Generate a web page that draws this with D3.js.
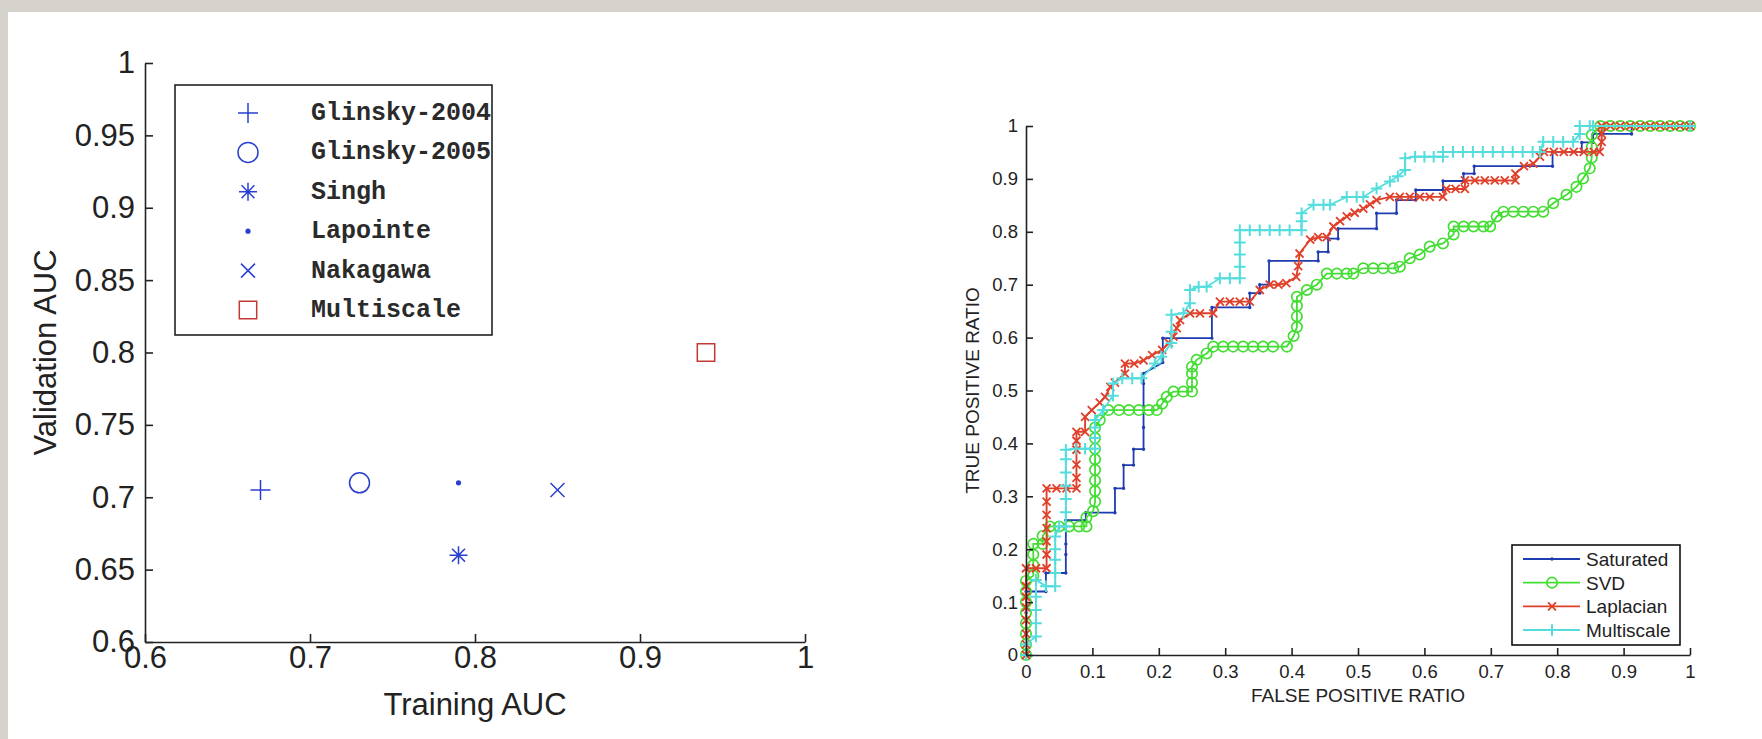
<!DOCTYPE html>
<html>
<head>
<meta charset="utf-8">
<script src="https://cdn.jsdelivr.net/npm/d3@7"></script>
<style>
  body { margin: 0; background: #d5d2cc; }
  svg { display: block; }
</style>
</head>
<body>
<div id="fig"></div>
<script>
// ---------- DATA ----------
// left panel: training vs validation AUC per method
const methods = ["Glinsky-2004", "Glinsky-2005", "Singh", "Lapointe", "Nakagawa", "Multiscale"];
const trainingAUC = [0.67, 0.73, 0.79, 0.79, 0.85, 0.94];
const validationAUC = [0.705, 0.71, 0.66, 0.71, 0.705, 0.80];
const trainTicks = [0.6, 0.7, 0.8, 0.9, 1];
const validTicks = [0.6, 0.65, 0.7, 0.75, 0.8, 0.85, 0.9, 0.95, 1];

// right panel: ROC curves, [false positive ratio, true positive ratio]
const rocLabels = ["Saturated", "SVD", "Laplacian", "Multiscale"];
const rocTicks = [0, 0.1, 0.2, 0.3, 0.4, 0.5, 0.6, 0.7, 0.8, 0.9, 1];

const rocSaturated = [
  [0,0],[0,0.04],[0,0.08],[0,0.12],[0.03,0.12],[0.03,0.155],[0.06,0.155],[0.06,0.19],[0.06,0.21],[0.06,0.255],
  [0.09,0.255],[0.09,0.269],[0.134,0.269],[0.134,0.315],[0.147,0.315],[0.147,0.359],[0.162,0.359],[0.162,0.389],
  [0.177,0.389],[0.177,0.43],[0.177,0.47],[0.177,0.513],[0.177,0.532],[0.206,0.553],[0.206,0.599],[0.28,0.599],
  [0.28,0.657],[0.337,0.657],[0.337,0.684],[0.352,0.684],[0.352,0.70],[0.366,0.70],[0.366,0.745],[0.44,0.745],
  [0.44,0.762],[0.455,0.762],[0.455,0.787],[0.47,0.787],[0.47,0.806],[0.528,0.806],[0.528,0.835],[0.558,0.835],
  [0.558,0.86],[0.587,0.86],[0.587,0.879],[0.628,0.879],[0.628,0.896],[0.659,0.896],[0.659,0.91],[0.675,0.91],
  [0.675,0.924],[0.793,0.924],[0.793,0.951],[0.837,0.951],[0.837,0.969],[0.854,0.969],[0.854,0.985],[0.912,0.985],
  [0.912,1],[1,1]
];

const rocSVD = [
  [0,0],[0,0.02],[0,0.04],[0,0.06],[0,0.08],[0,0.10],[0,0.12],[0,0.14],[0.011,0.15],[0.011,0.17],[0.011,0.19],
  [0.011,0.21],[0.025,0.21],[0.025,0.225],[0.036,0.243],[0.05,0.243],[0.065,0.243],[0.08,0.243],[0.091,0.243],
  [0.091,0.26],[0.101,0.272],[0.104,0.29],[0.104,0.31],[0.104,0.33],[0.104,0.35],[0.104,0.37],[0.104,0.39],
  [0.104,0.41],[0.104,0.43],[0.111,0.444],[0.124,0.463],[0.14,0.463],[0.155,0.463],[0.17,0.463],[0.185,0.463],
  [0.197,0.463],[0.205,0.475],[0.212,0.488],[0.222,0.498],[0.237,0.498],[0.25,0.498],[0.25,0.515],[0.25,0.532],
  [0.25,0.545],[0.257,0.558],[0.272,0.57],[0.282,0.583],[0.297,0.583],[0.312,0.583],[0.327,0.583],[0.342,0.583],
  [0.357,0.583],[0.372,0.583],[0.393,0.583],[0.403,0.603],[0.408,0.62],[0.408,0.64],[0.408,0.66],[0.408,0.677],
  [0.423,0.69],[0.438,0.70],[0.453,0.721],[0.468,0.721],[0.483,0.721],[0.493,0.721],[0.508,0.731],[0.523,0.731],
  [0.538,0.731],[0.553,0.731],[0.563,0.734],[0.578,0.75],[0.593,0.757],[0.608,0.772],[0.628,0.778],[0.644,0.795],
  [0.644,0.81],[0.659,0.81],[0.674,0.81],[0.689,0.81],[0.699,0.81],[0.709,0.829],[0.719,0.838],[0.734,0.838],
  [0.749,0.838],[0.764,0.838],[0.779,0.838],[0.794,0.854],[0.814,0.87],[0.829,0.885],[0.839,0.901],[0.849,0.92],
  [0.852,0.94],[0.852,0.96],[0.852,0.983],[0.865,1],[0.88,1],[0.895,1],[0.91,1],[0.925,1],[0.94,1],[0.955,1],
  [0.97,1],[0.985,1],[1,1]
];

const rocLaplacian = [
  [0,0],[0,0.02],[0,0.04],[0,0.066],[0,0.09],[0,0.11],[0,0.13],[0,0.164],[0.015,0.164],[0.031,0.164],
  [0.031,0.19],[0.031,0.215],[0.031,0.24],[0.031,0.265],[0.031,0.29],[0.031,0.315],[0.046,0.315],[0.061,0.315],
  [0.076,0.315],[0.076,0.335],[0.076,0.36],[0.076,0.388],[0.076,0.405],[0.076,0.422],[0.089,0.422],[0.089,0.45],
  [0.099,0.463],[0.111,0.477],[0.119,0.488],[0.127,0.507],[0.134,0.515],[0.149,0.532],[0.149,0.551],[0.163,0.551],
  [0.177,0.557],[0.19,0.567],[0.205,0.577],[0.215,0.59],[0.222,0.602],[0.227,0.618],[0.232,0.633],[0.247,0.646],
  [0.262,0.646],[0.282,0.646],[0.292,0.668],[0.307,0.668],[0.322,0.668],[0.337,0.668],[0.352,0.69],[0.367,0.70],
  [0.38,0.70],[0.392,0.703],[0.407,0.715],[0.41,0.735],[0.412,0.759],[0.428,0.785],[0.44,0.79],[0.453,0.79],
  [0.463,0.81],[0.473,0.82],[0.483,0.829],[0.495,0.836],[0.508,0.844],[0.518,0.852],[0.528,0.86],[0.548,0.866],
  [0.563,0.866],[0.578,0.866],[0.593,0.866],[0.608,0.866],[0.628,0.866],[0.633,0.881],[0.647,0.881],[0.661,0.881],
  [0.661,0.897],[0.676,0.897],[0.691,0.897],[0.706,0.897],[0.721,0.897],[0.737,0.897],[0.737,0.91],[0.75,0.924],
  [0.764,0.929],[0.774,0.942],[0.78,0.951],[0.795,0.951],[0.81,0.951],[0.825,0.951],[0.84,0.951],[0.855,0.951],
  [0.864,0.951],[0.867,0.97],[0.867,0.985],[0.867,1],[0.88,1],[0.895,1],[0.91,1],[0.925,1],[0.94,1],[0.955,1],
  [0.97,1],[0.985,1],[1,1]
];

const rocMultiscale = [
  [0,0],[0,0.02],[0.015,0.035],[0.015,0.06],[0.015,0.085],[0.015,0.11],[0.015,0.142],[0.03,0.13],[0.044,0.13],
  [0.044,0.155],[0.044,0.18],[0.044,0.2],[0.044,0.224],[0.05,0.243],[0.06,0.243],[0.06,0.27],[0.06,0.295],
  [0.06,0.32],[0.06,0.345],[0.06,0.37],[0.06,0.388],[0.075,0.39],[0.089,0.39],[0.104,0.39],[0.104,0.41],
  [0.104,0.43],[0.104,0.444],[0.116,0.463],[0.131,0.49],[0.131,0.513],[0.145,0.523],[0.16,0.523],[0.174,0.523],
  [0.194,0.551],[0.204,0.564],[0.219,0.59],[0.219,0.611],[0.219,0.643],[0.237,0.646],[0.247,0.665],[0.247,0.69],
  [0.26,0.696],[0.272,0.696],[0.292,0.712],[0.307,0.712],[0.322,0.712],[0.322,0.734],[0.322,0.757],[0.322,0.78],
  [0.322,0.803],[0.337,0.803],[0.352,0.803],[0.367,0.803],[0.382,0.803],[0.397,0.803],[0.415,0.803],[0.415,0.82],
  [0.415,0.835],[0.433,0.851],[0.448,0.851],[0.458,0.851],[0.483,0.866],[0.498,0.866],[0.508,0.866],[0.528,0.882],
  [0.548,0.895],[0.56,0.905],[0.571,0.917],[0.571,0.939],[0.586,0.942],[0.6,0.942],[0.614,0.942],[0.628,0.942],
  [0.628,0.951],[0.643,0.951],[0.658,0.951],[0.673,0.951],[0.688,0.951],[0.703,0.951],[0.718,0.951],[0.733,0.951],
  [0.748,0.951],[0.763,0.951],[0.774,0.951],[0.779,0.97],[0.794,0.97],[0.809,0.97],[0.824,0.97],[0.834,0.985],
  [0.834,1],[0.849,1],[0.854,1],[1,1]
];

// ---------- LAYOUT / STYLE ----------
const W = 1762, H = 739;
const FONT = "'Liberation Sans', Arial, Helvetica, sans-serif";
const MONO = "'Liberation Mono', 'Courier New', monospace";
const INK = "#222";

// marker style per left-panel method
const methodStyle = {
  "Glinsky-2004": {shape: "plus", size: 10, width: 1.5, color: "#2a3fcf"},
  "Glinsky-2005": {shape: "circle", size: 10, width: 1.5, color: "#2a3fcf"},
  "Singh": {shape: "star", size: 9, width: 1.5, color: "#2a3fcf"},
  "Lapointe": {shape: "dot", size: 2.6, width: 0, color: "#2a3fcf"},
  "Nakagawa": {shape: "cross", size: 7, width: 1.5, color: "#2a3fcf"},
  "Multiscale": {shape: "square", size: 8.7, width: 1.5, color: "#c23a32"}
};

// style per ROC series
const rocStyle = {
  "Saturated": {shape: "dot", size: 1.7, width: 0, line: 1.8, color: "#1f3cb0"},
  "SVD": {shape: "circle", size: 5.2, width: 1.7, line: 1.8, color: "#44dd33"},
  "Laplacian": {shape: "cross", size: 4, width: 1.8, line: 1.9, color: "#e0402a"},
  "Multiscale": {shape: "plus", size: 5.8, width: 2, line: 1.8, color: "#55dddd"}
};
const rocData = [rocSaturated, rocSVD, rocLaplacian, rocMultiscale];

function markerPath(shape, s) {
  const k = s * 0.72;
  switch (shape) {
    case "plus": return `M${-s},0H${s}M0,${-s}V${s}`;
    case "cross": return `M${-s},${-s}L${s},${s}M${-s},${s}L${s},${-s}`;
    case "star": return `M${-s},0H${s}M0,${-s}V${s}M${-k},${-k}L${k},${k}M${-k},${k}L${k},${-k}`;
    case "square": return `M${-s},${-s}H${s}V${s}H${-s}Z`;
    case "circle":
    case "dot": return d3.arc()({innerRadius: 0, outerRadius: s, startAngle: 0, endAngle: 2 * Math.PI});
  }
}

function drawMarker(g, style, x, y) {
  const p = g.append("path")
    .attr("transform", `translate(${x},${y})`)
    .attr("d", markerPath(style.shape, style.size));
  if (style.shape === "dot") {
    p.attr("fill", style.color).attr("stroke", "none");
  } else {
    p.attr("fill", "none").attr("stroke", style.color).attr("stroke-width", style.width);
  }
  return p;
}

function styleAxis(g, fontSize) {
  g.select(".domain").attr("stroke", INK).attr("stroke-width", 1.6);
  g.selectAll(".tick line").attr("stroke", INK).attr("stroke-width", 1.6);
  g.selectAll(".tick text").attr("fill", INK).style("font-family", FONT).style("font-size", fontSize + "px");
}

const svg = d3.select("#fig").append("svg").attr("width", W).attr("height", H);

// slide background and white card
svg.append("rect").attr("width", W).attr("height", H).attr("fill", "#d5d2cc");
svg.append("rect").attr("x", 8).attr("y", 12).attr("width", W - 8).attr("height", H - 12).attr("fill", "#fff");

// ---------- LEFT PANEL ----------
const xTrain = d3.scaleLinear().domain([0.6, 1]).range([145, 805]);
const yValid = d3.scaleLinear().domain([0.6, 1]).range([642, 63]);
const left = svg.append("g");

left.append("g")
  .attr("transform", `translate(0,${yValid(0.6)})`)
  .call(d3.axisBottom(xTrain).tickValues(trainTicks).tickFormat(d => String(d))
    .tickSizeInner(-8).tickSizeOuter(0).tickPadding(4))
  .call(g => styleAxis(g, 31));

left.append("g")
  .attr("transform", `translate(${xTrain(0.6)},0)`)
  .call(d3.axisLeft(yValid).tickValues(validTicks).tickFormat(d => String(d))
    .tickSizeInner(-8).tickSizeOuter(0).tickPadding(10))
  .call(g => styleAxis(g, 31));

left.append("text")
  .attr("x", (xTrain(0.6) + xTrain(1)) / 2).attr("y", 715)
  .attr("text-anchor", "middle").attr("fill", INK)
  .style("font-family", FONT).style("font-size", "31px")
  .text("Training AUC");

left.append("text")
  .attr("transform", `translate(56,${(yValid(0.6) + yValid(1)) / 2}) rotate(-90)`)
  .attr("text-anchor", "middle").attr("fill", INK)
  .style("font-family", FONT).style("font-size", "31px")
  .text("Validation AUC");

const pts = left.append("g");
methods.forEach((m, i) => {
  drawMarker(pts, methodStyle[m], xTrain(trainingAUC[i]), yValid(validationAUC[i]));
});

// legend (text is clipped by the box, as in the original)
const legL = {x: 175, y: 85, w: 317, h: 250};
svg.append("clipPath").attr("id", "legclip")
  .append("rect").attr("x", legL.x).attr("y", legL.y).attr("width", legL.w).attr("height", legL.h);
const lg = left.append("g");
lg.append("rect").attr("x", legL.x).attr("y", legL.y).attr("width", legL.w).attr("height", legL.h)
  .attr("fill", "#fff");
const legRows = d3.scalePoint().domain(methods).range([113, 310]);
methods.forEach(m => {
  const yy = legRows(m);
  drawMarker(lg, methodStyle[m], 248, yy);
  lg.append("text")
    .attr("x", 311).attr("y", yy + 7)
    .attr("clip-path", "url(#legclip)")
    .attr("fill", "#2a2a2a")
    .style("font-family", MONO).style("font-weight", "bold").style("font-size", "25px")
    .text(m);
});
lg.append("rect").attr("x", legL.x).attr("y", legL.y).attr("width", legL.w).attr("height", legL.h)
  .attr("fill", "none").attr("stroke", INK).attr("stroke-width", 1.6);

// ---------- RIGHT PANEL ----------
const xFpr = d3.scaleLinear().domain([0, 1]).range([1026, 1690]);
const yTpr = d3.scaleLinear().domain([0, 1]).range([655, 126]);
const right = svg.append("g");

const line = d3.line().x(d => xFpr(d[0])).y(d => yTpr(d[1]));
rocLabels.forEach((name, i) => {
  const st = rocStyle[name];
  const g = right.append("g");
  g.append("path").datum(rocData[i])
    .attr("d", line).attr("fill", "none")
    .attr("stroke", st.color).attr("stroke-width", st.line);
  rocData[i].forEach(d => drawMarker(g, st, xFpr(d[0]), yTpr(d[1])));
});

right.append("g")
  .attr("transform", `translate(0,${yTpr(0)})`)
  .call(d3.axisBottom(xFpr).tickValues(rocTicks).tickFormat(d => String(d))
    .tickSizeInner(-7).tickSizeOuter(0).tickPadding(10))
  .call(g => styleAxis(g, 18.5));

right.append("g")
  .attr("transform", `translate(${xFpr(0)},0)`)
  .call(d3.axisLeft(yTpr).tickValues(rocTicks).tickFormat(d => String(d))
    .tickSizeInner(-7).tickSizeOuter(0).tickPadding(8))
  .call(g => styleAxis(g, 18.5));

right.append("text")
  .attr("x", (xFpr(0) + xFpr(1)) / 2).attr("y", 702)
  .attr("text-anchor", "middle").attr("fill", INK)
  .style("font-family", FONT).style("font-size", "19px")
  .text("FALSE POSITIVE RATIO");

right.append("text")
  .attr("transform", `translate(979,${(yTpr(0) + yTpr(1)) / 2}) rotate(-90)`)
  .attr("text-anchor", "middle").attr("fill", INK)
  .style("font-family", FONT).style("font-size", "19px")
  .text("TRUE POSITIVE RATIO");

// legend
const lr = right.append("g");
lr.append("rect").attr("x", 1512).attr("y", 545).attr("width", 168).attr("height", 100)
  .attr("fill", "#fff").attr("stroke", "#111").attr("stroke-width", 1.6);
const rocRows = d3.scalePoint().domain(rocLabels).range([559, 630]);
rocLabels.forEach(name => {
  const st = rocStyle[name];
  const yy = rocRows(name);
  lr.append("line").attr("x1", 1523).attr("x2", 1580).attr("y1", yy).attr("y2", yy)
    .attr("stroke", st.color).attr("stroke-width", st.line);
  drawMarker(lr, st, 1552, yy);
  lr.append("text").attr("x", 1586).attr("y", yy + 7)
    .attr("fill", INK)
    .style("font-family", FONT).style("font-size", "19px")
    .text(name);
});
</script>
</body>
</html>
